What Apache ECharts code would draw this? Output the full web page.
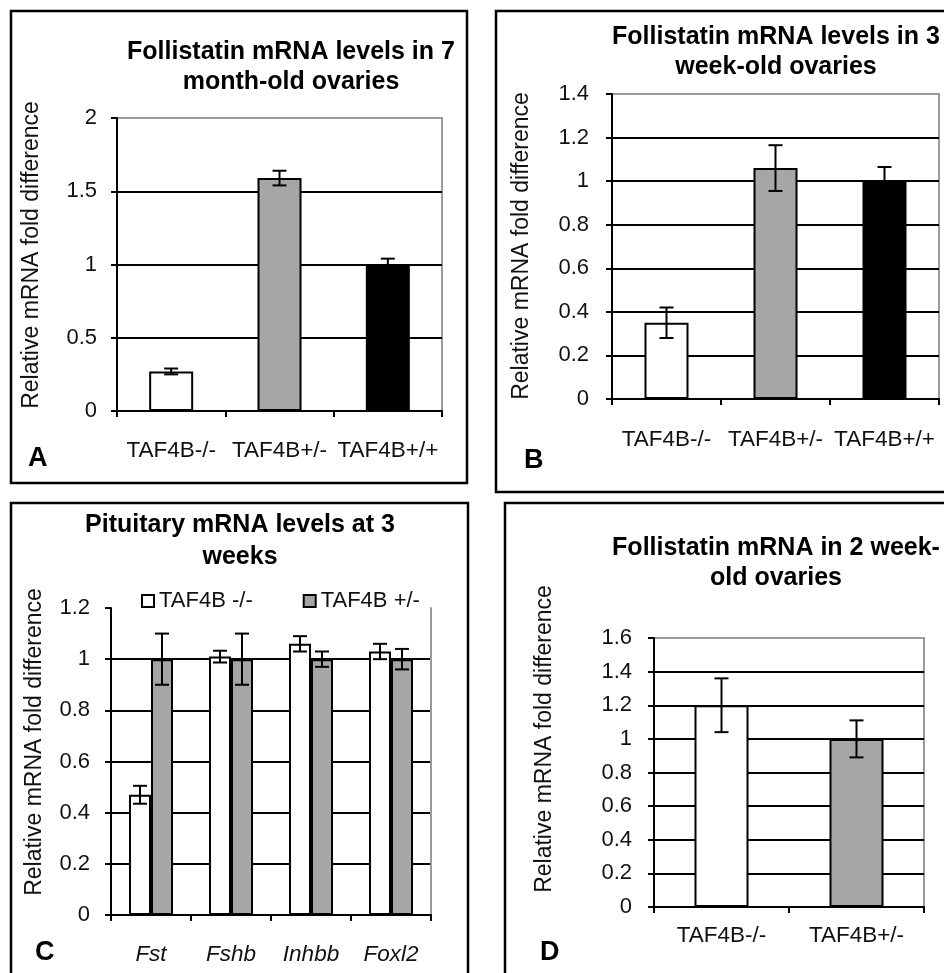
<!DOCTYPE html>
<html>
<head>
<meta charset="utf-8">
<script src="https://cdn.jsdelivr.net/npm/echarts@6/dist/echarts.min.js"></script>
<style>html,body{margin:0;padding:0;background:#fff;}#c{width:944px;height:973px;}</style>
</head>
<body>
<div id="c"></div>
<script>
// ---- Data ----
const catsA = ['TAF4B-/-', 'TAF4B+/-', 'TAF4B+/+'];
const valsA = [0.27, 1.59, 1.0];
const errA = [0.02, 0.05, 0.04];

const catsB = ['TAF4B-/-', 'TAF4B+/-', 'TAF4B+/+'];
const valsB = [0.35, 1.06, 1.0];
const errB = [0.07, 0.105, 0.065];

const catsC = ['Fst', 'Fshb', 'Inhbb', 'Foxl2'];
const namesC = ['TAF4B -/-', 'TAF4B +/-'];
const valsCKO = [0.47, 1.01, 1.06, 1.03];
const errCKO = [0.035, 0.023, 0.03, 0.03];
const valsCHet = [1.0, 1.0, 1.0, 1.0];
const errCHet = [0.1, 0.1, 0.03, 0.04];

const catsD = ['TAF4B-/-', 'TAF4B+/-'];
const valsD = [1.2, 1.0];
const errD = [0.16, 0.11];

const titles = [
  ['Follistatin mRNA levels in 7', 'month-old ovaries'],
  ['Follistatin mRNA levels in 3', 'week-old ovaries'],
  ['Pituitary mRNA levels at 3', 'weeks'],
  ['Follistatin mRNA in 2 week-', 'old ovaries']
];
const letters = ['A', 'B', 'C', 'D'];
const yName = 'Relative mRNA fold difference';

// ---- Styles ----
const FONT = "'Liberation Sans', Arial, sans-serif";
const WHITE = '#ffffff', GRAY = '#a6a6a6', BLACK = '#000000';
const TXT = '#111111';
const colorsABC = [WHITE, GRAY, BLACK];

const chart = echarts.init(document.getElementById('c'));

function yAxis(gi, max, interval, labelMargin) {
  return {
    type: 'value', gridIndex: gi, min: 0, max: max, interval: interval,
    axisLine: { show: true, lineStyle: { color: BLACK, width: 2 } },
    axisTick: { show: true, length: 6, lineStyle: { color: BLACK, width: 2 } },
    axisLabel: { fontFamily: FONT, fontSize: 22, color: TXT, margin: labelMargin },
    splitLine: { show: true, showMaxLine: false, lineStyle: { color: BLACK, width: 2 } }
  };
}
function xAxis(gi, cats, margin, italic) {
  return {
    type: 'category', gridIndex: gi, data: cats,
    axisLine: { show: true, onZero: false, lineStyle: { color: BLACK, width: 2 } },
    axisTick: { show: true, length: 6, alignWithLabel: false, lineStyle: { color: BLACK, width: 2 } },
    axisLabel: { fontFamily: FONT, fontSize: 22.5, color: TXT, margin: margin, interval: 0,
                 fontStyle: italic ? 'italic' : 'normal' },
    splitLine: { show: false }
  };
}
function errSeries(xi, vals, errs, offset) {
  return {
    type: 'custom', xAxisIndex: xi, yAxisIndex: xi, z: 10, silent: true,
    encode: { x: 0, y: 1 },
    data: vals.map((v, i) => [i, v, errs[i]]),
    renderItem: function (params, api) {
      const i = api.value(0), v = api.value(1), e = api.value(2);
      const hi = api.coord([i, v + e]);
      const lo = api.coord([i, v - e]);
      const x = hi[0] + offset, w = 7;
      const st = { stroke: BLACK, lineWidth: 2 };
      return { type: 'group', children: [
        { type: 'line', shape: { x1: x, y1: hi[1], x2: x, y2: lo[1] }, style: st },
        { type: 'line', shape: { x1: x - w, y1: hi[1], x2: x + w, y2: hi[1] }, style: st },
        { type: 'line', shape: { x1: x - w, y1: lo[1], x2: x + w, y2: lo[1] }, style: st }
      ]};
    }
  };
}
function coloredBars(xi, vals, colors, width) {
  return {
    type: 'bar', xAxisIndex: xi, yAxisIndex: xi, barWidth: width,
    data: vals.map((v, i) => ({ value: v, itemStyle: { color: colors[i] } })),
    itemStyle: { borderColor: BLACK, borderWidth: 2 }
  };
}

const gridBorder = { show: true, borderColor: '#9a9a9a', borderWidth: 2, backgroundColor: 'transparent' };

const titleCenters = [[291, 52, 82], [776, 37, 67], [240, 525, 557], [776, 548, 578]];
const letterPos = [[28, 459], [524, 461], [35, 953], [540, 953]];
const yNamePos = [[32, 255], [522, 246], [35, 742], [545, 739]];
const panelRects = [[11, 11, 456, 472], [496, 11, 470, 481], [11, 503, 457, 490], [505, 503, 460, 490]];

const graphics = [];
panelRects.forEach(r => graphics.push({
  type: 'rect', shape: { x: r[0], y: r[1], width: r[2], height: r[3] },
  style: { fill: 'none', stroke: BLACK, lineWidth: 2.5 }, silent: true, z: 0
}));
titles.forEach((t, k) => {
  const c = titleCenters[k];
  t.forEach((line, j) => graphics.push({
    type: 'text', x: c[0], y: c[1 + j], silent: true,
    style: { text: line, fontFamily: FONT, fontSize: 25, fontWeight: 'bold', fill: BLACK,
             textAlign: 'center', textVerticalAlign: 'middle' }
  }));
});
letters.forEach((l, k) => graphics.push({
  type: 'text', x: letterPos[k][0], y: letterPos[k][1], silent: true,
  style: { text: l, fontFamily: FONT, fontSize: 27, fontWeight: 'bold', fill: BLACK,
           textAlign: 'left', textVerticalAlign: 'middle' }
}));
yNamePos.forEach(p => graphics.push({
  type: 'text', x: p[0], y: p[1], rotation: Math.PI / 2, silent: true,
  style: { text: yName, fontFamily: FONT, fontSize: 23, fill: TXT,
           textAlign: 'center', textVerticalAlign: 'middle' }
}));

const option = {
  animation: false,
  backgroundColor: '#fff',
  legend: {
    data: namesC, left: 136, top: 585, itemWidth: 12, itemHeight: 12, itemGap: 50,
    icon: 'rect',
    textStyle: { fontFamily: FONT, fontSize: 22, color: TXT },
    backgroundColor: '#fff'
  },
  grid: [
    Object.assign({ left: 117, top: 118, width: 325, height: 293 }, gridBorder),
    Object.assign({ left: 612, top: 94, width: 327, height: 305 }, gridBorder),
    { left: 111, top: 608, width: 320, height: 307, show: false },
    Object.assign({ left: 654, top: 638, width: 270, height: 269 }, gridBorder)
  ],
  xAxis: [
    xAxis(0, catsA, 28, false),
    xAxis(1, catsB, 29, false),
    xAxis(2, catsC, 28, true),
    xAxis(3, catsD, 17, false)
  ],
  yAxis: [
    yAxis(0, 2, 0.5, 20),
    yAxis(1, 1.4, 0.2, 23),
    yAxis(2, 1.2, 0.2, 21),
    yAxis(3, 1.6, 0.2, 22),
    { type: 'value', gridIndex: 2, position: 'right', min: 0, max: 1.2,
      axisLine: { show: true, lineStyle: { color: '#9a9a9a', width: 2 } },
      axisTick: { show: false }, axisLabel: { show: false }, splitLine: { show: false } }
  ],
  series: [
    coloredBars(0, valsA, colorsABC, 44),
    errSeries(0, valsA, errA, 0),
    coloredBars(1, valsB, colorsABC, 44),
    errSeries(1, valsB, errB, 0),
    { name: namesC[0], type: 'bar', xAxisIndex: 2, yAxisIndex: 2, barWidth: 22, barGap: '0%',
      data: valsCKO, itemStyle: { color: WHITE, borderColor: BLACK, borderWidth: 2 } },
    { name: namesC[1], type: 'bar', xAxisIndex: 2, yAxisIndex: 2, barWidth: 22, barGap: '0%',
      data: valsCHet, itemStyle: { color: GRAY, borderColor: BLACK, borderWidth: 2 } },
    errSeries(2, valsCKO, errCKO, -11),
    errSeries(2, valsCHet, errCHet, 11),
    coloredBars(3, valsD, [WHITE, GRAY], 54),
    errSeries(3, valsD, errD, 0)
  ],
  graphic: graphics
};
chart.setOption(option);
</script>
</body>
</html>
